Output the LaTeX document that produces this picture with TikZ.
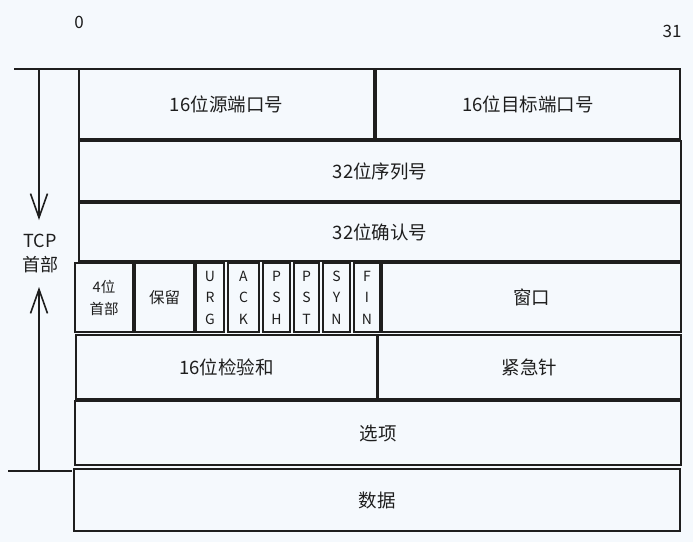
\documentclass[tikz,border=0pt]{standalone}
\usepackage{fontspec}
\setmainfont{Noto Sans CJK SC}
\usetikzlibrary{arrows.meta}
\definecolor{bg}{HTML}{F5F9FD}
\definecolor{ink}{HTML}{1E1E1E}
\tikzset{
  cell/.style={draw=ink, line width=1.7pt, inner sep=0pt, outer sep=0pt,
    text=ink, font=\fontsize{18.5}{22}\selectfont},
  flag/.style={font=\fontsize{14}{21.5}\selectfont, align=center},
  small/.style={font=\fontsize{14.5}{22}\selectfont, align=center},
  lbl/.style={text=ink, font=\fontsize{17}{20}\selectfont, inner sep=0pt},
  brace/.style={draw=ink, line width=1.6pt},
  harrow/.style={draw=ink, line width=1.6pt, -{Straight Barb[length=24pt, width=17pt, line width=1.6pt]}}
}
\begin{document}
\begin{tikzpicture}[x=1pt, y=-1pt]
\fill[bg] (0,0) rectangle (693,542);
\useasboundingbox (0,0) rectangle (693,542);
% labels
\node[lbl] (zero) at (79,22) {0};
\node[lbl] (tt) at (672,31) {31};
% rows
\node[cell, minimum width=295pt, minimum height=70pt] (src) at (226.5,104) {16位源端口号};
\node[cell, minimum width=304pt, minimum height=70pt] (dst) at (528,104) {16位目标端口号};
\node[cell, minimum width=602pt, minimum height=60pt] (seq) at (380,171) {32位序列号};
\node[cell, minimum width=602pt, minimum height=58pt] (ackn) at (380,232) {32位确认号};
\node[cell, small, minimum width=58pt, minimum height=69pt] (hl) at (104,297.5) {4位\\首部};
\node[cell, minimum width=59pt, minimum height=69pt] (rsv) at (164.5,297.5) {\fontsize{15.5}{18}\selectfont 保留};
\node[cell, flag, minimum width=28pt, minimum height=69pt] (urg) at (210,297.5) {U\\R\\G};
\node[cell, flag, minimum width=31pt, minimum height=69pt] (ack) at (243.5,297.5) {A\\C\\K};
\node[cell, flag, minimum width=27pt, minimum height=69pt] (psh) at (276.5,297.5) {P\\S\\H};
\node[cell, flag, minimum width=25pt, minimum height=69pt] (pst) at (306.5,297.5) {P\\S\\T};
\node[cell, flag, minimum width=27pt, minimum height=69pt] (syn) at (336.5,297.5) {S\\Y\\N};
\node[cell, flag, minimum width=26pt, minimum height=69pt] (fin) at (367,297.5) {F\\I\\N};
\node[cell, minimum width=299pt, minimum height=69pt] (win) at (531.5,297.5) {窗口};
\node[cell, minimum width=301pt, minimum height=64pt] (chk) at (226.5,367) {16位检验和};
\node[cell, minimum width=303pt, minimum height=64pt] (urgp) at (529.5,367) {紧急针};
\node[cell, minimum width=606pt, minimum height=64pt] (opt) at (378,433) {选项};
\node[cell, minimum width=606pt, minimum height=62pt] (data) at (377,500) {数据};
% left marker
\coordinate (tl) at (14,69);
\coordinate (tr) at (78,69);
\coordinate (bl) at (8,471);
\coordinate (br) at (72,471);
\coordinate (topv) at (39,69);
\coordinate (botv) at (39,471);
\node[lbl, align=center, font=\fontsize{18}{24}\selectfont] (tcp) at (40,253) {TCP\\首部};
\draw[brace] (tl) -- (tr);
\draw[brace] (bl) -- (br);
\draw[harrow] (topv) -- ([yshift=33pt]tcp.center -| topv);
\draw[harrow] (botv) -- ([yshift=-34pt]tcp.center -| botv);
\end{tikzpicture}
\end{document}
